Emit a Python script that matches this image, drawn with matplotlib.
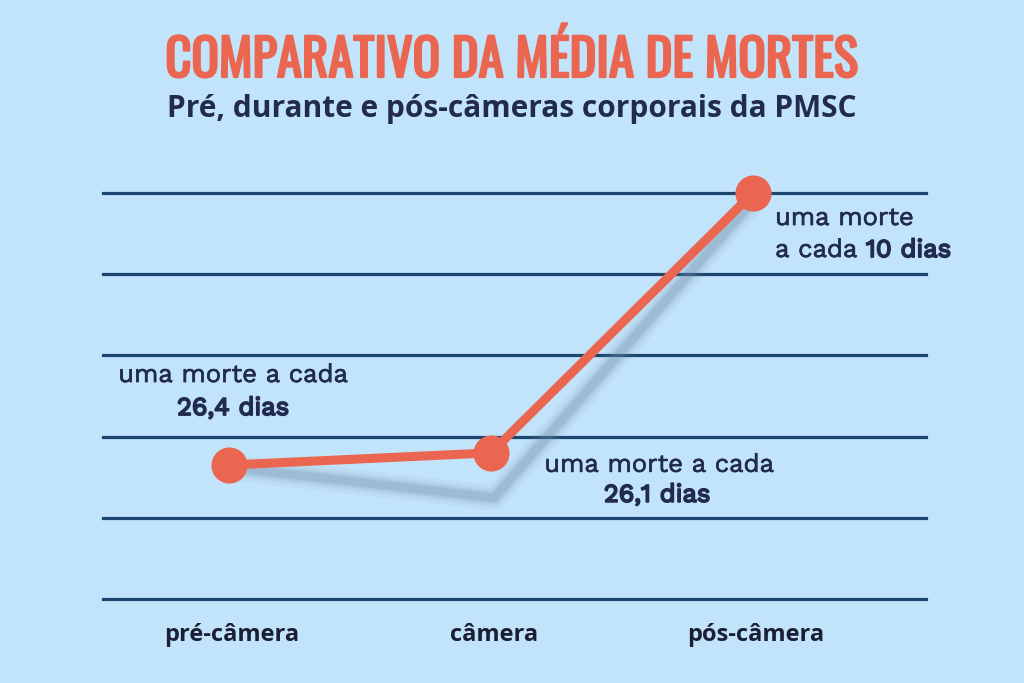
#!/usr/bin/env python3
"""Comparativo da média de mortes: pré, durante e pós-câmeras corporais da PMSC."""

import matplotlib
matplotlib.use("Agg")
import matplotlib.pyplot as plt
from matplotlib import font_manager
from matplotlib import patheffects as pe

# ---------------------------------------------------------------------------
# Data
# ---------------------------------------------------------------------------
CATEGORIES = ["pré-câmera", "câmera", "pós-câmera"]
VALUES = [1.65, 1.80, 5.0]          # posição relativa (escala do gráfico)
DAYS_LABELS = ["26,4 dias", "26,1 dias", "10 dias"]
GRID_LEVELS = [0, 1, 2, 3, 4, 5]

TITLE = "COMPARATIVO DA MÉDIA DE MORTES"
SUBTITLE = "Pré, durante e pós-câmeras corporais da PMSC"

# ---------------------------------------------------------------------------
# Style
# ---------------------------------------------------------------------------
BG = "#C2E4FA"
CORAL = "#EA6650"
NAVY = "#1C4670"
TEXT_DARK = "#222B4F"
SHADOW = "#6F8CA4"

_fonts = font_manager.fontManager.ttflist
_names = {f.name for f in _fonts}


def pick(*fams):
    for f in fams:
        if f in _names:
            return f
    return "DejaVu Sans"


def has_bold(fam):
    return any(f.name == fam and int(f.weight) >= 600 for f in _fonts
               if str(f.weight).isdigit())


TITLE_FONT = pick("Oswald", "Liberation Sans Narrow")
BODY_FONT = pick("Work Sans", "Open Sans")
SUB_FONT = pick("Open Sans")

# fake extra weight where the installed family has no bold face
TITLE_FX = [pe.withStroke(linewidth=1.6, foreground=CORAL)]
BOLD_FX = [] if has_bold(BODY_FONT) else [pe.withStroke(linewidth=1.3, foreground=TEXT_DARK)]
REG_FX = [pe.withStroke(linewidth=0.5, foreground=TEXT_DARK)]

W, H, DPI = 1024, 683, 100

fig = plt.figure(figsize=(W / DPI, H / DPI), dpi=DPI, facecolor=BG)
ax = fig.add_axes([0, 0, 1, 1], facecolor=BG)
ax.set_xlim(-0.874, 3.034)
ax.set_ylim(-1.0345, 7.377)
ax.axis("off")
renderer = fig.canvas.get_renderer()


def fit_width(text, target_px):
    """Scale a text's font size so its rendered width matches target_px."""
    w = text.get_window_extent(renderer).width
    text.set_fontsize(text.get_fontsize() * target_px / w)


# gridlines
for lv in GRID_LEVELS:
    ax.axhline(lv, xmin=103 / W, xmax=926 / W, color=NAVY, lw=2.3, zorder=1)

xs = list(range(len(CATEGORIES)))

# soft shadow below the line (pixel offsets per point, y downwards)
shadow_off = [(6, 3), (3, 45), (3, 4)]
disp = ax.transData.transform(list(zip(xs, VALUES)))
sh_pts = [(px + dx, py - dy) for (px, py), (dx, dy) in zip(disp, shadow_off)]
sh_data = ax.transData.inverted().transform(sh_pts)
for lw, a in [(18, 0.07), (13, 0.10), (9, 0.15), (6, 0.20)]:
    ax.plot(sh_data[:, 0], sh_data[:, 1], color=SHADOW, lw=lw, alpha=a,
            solid_capstyle="round", solid_joinstyle="round", zorder=2)

# main line
ax.plot(xs, VALUES, color=CORAL, lw=6.5, marker="o", markersize=26,
        markerfacecolor=CORAL, markeredgewidth=0, solid_capstyle="round",
        zorder=3)

# annotations
ann_kw = dict(textcoords="offset pixels", fontfamily=BODY_FONT, fontsize=20,
              color=TEXT_DARK, va="baseline", zorder=4)
# pré-câmera
t = ax.annotate("uma morte a cada", (xs[0], VALUES[0]), xytext=(4, 83),
                ha="center", path_effects=REG_FX, **ann_kw)
fit_width(t, 230)
body_size = t.get_fontsize()
ann_kw["fontsize"] = body_size
ax.annotate(DAYS_LABELS[0], (xs[0], VALUES[0]), xytext=(4, 50),
            ha="center", fontweight="bold", path_effects=BOLD_FX, **ann_kw)
# câmera
ax.annotate("uma morte a cada", (xs[1], VALUES[1]), xytext=(168, -19),
            ha="center", path_effects=REG_FX, **ann_kw)
ax.annotate(DAYS_LABELS[1], (xs[1], VALUES[1]), xytext=(166, -49),
            ha="center", fontweight="bold", path_effects=BOLD_FX, **ann_kw)
# pós-câmera
ax.annotate("uma morte", (xs[2], VALUES[2]), xytext=(22, -32),
            ha="left", path_effects=REG_FX, **ann_kw)
t_cada = ax.annotate("a cada ", (xs[2], VALUES[2]), xytext=(22, -64),
                     ha="left", path_effects=REG_FX, **ann_kw)
ax.annotate(DAYS_LABELS[2], xy=(1, 0), xycoords=t_cada, xytext=(0, 0),
            textcoords="offset pixels", ha="left", va="bottom",
            fontfamily=BODY_FONT, fontsize=body_size, color=TEXT_DARK,
            fontweight="bold", path_effects=BOLD_FX, zorder=4)

# category labels
for x, cat in zip(xs, CATEGORIES):
    ax.text(x + 0.01, 1 - 641 / H, cat, transform=ax.get_xaxis_transform(),
            ha="center", va="baseline", fontfamily=SUB_FONT, fontsize=17,
            fontweight="bold", color="#1A1F33")

# titles
t_title = fig.text(0.5, 1 - 77 / H, TITLE, ha="center", va="baseline",
                   fontfamily=TITLE_FONT, fontsize=38, fontweight="bold",
                   color=CORAL, path_effects=TITLE_FX)
fit_width(t_title, 693)
t_sub = fig.text(0.5, 1 - 117 / H, SUBTITLE, ha="center", va="baseline",
                 fontfamily=SUB_FONT, fontsize=19, fontweight="bold",
                 color=TEXT_DARK)
fit_width(t_sub, 687)

fig.savefig("out.png", dpi=DPI, facecolor=BG)
plt.close(fig)
